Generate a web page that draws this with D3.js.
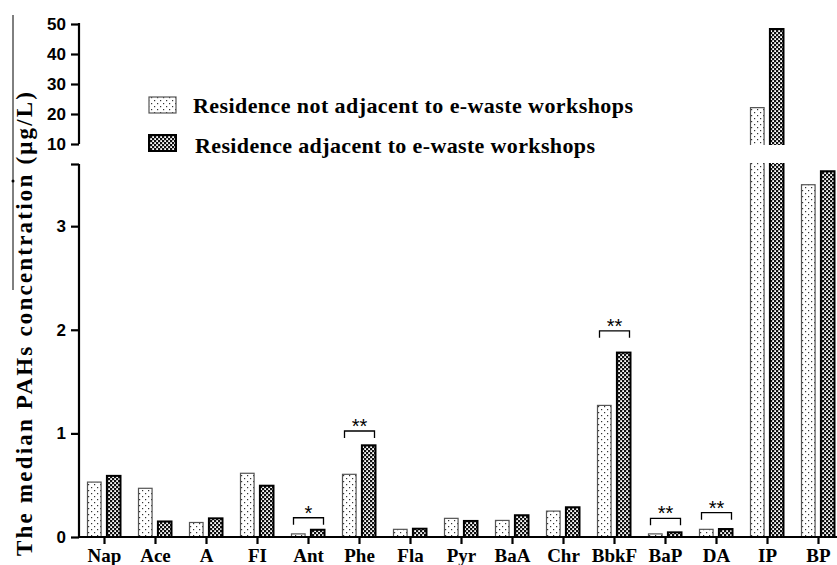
<!DOCTYPE html>
<html>
<head>
<meta charset="utf-8">
<script src="https://cdn.jsdelivr.net/npm/d3@7"></script>
<style>
  body { margin: 0; background: #fff; }
  svg { display: block; }
</style>
</head>
<body>
<div id="chart"></div>
<script>
'use strict'

// data
const categories = ['Nap', 'Ace', 'A', 'FI', 'Ant', 'Phe', 'Fla', 'Pyr', 'BaA', 'Chr', 'BbkF', 'BaP', 'DA', 'IP', 'BP']
const notAdjacent = [0.53, 0.47, 0.14, 0.615, 0.03, 0.605, 0.074, 0.18, 0.16, 0.25, 1.27, 0.03, 0.074, 22.1, 3.40]
const adjacent = [0.59, 0.15, 0.18, 0.495, 0.07, 0.885, 0.08, 0.155, 0.21, 0.287, 1.78, 0.045, 0.077, 48.3, 3.53]
const seriesNames = ['Residence not adjacent to e-waste workshops', 'Residence adjacent to e-waste workshops']

const lowTicks = [0, 1, 2, 3]
const highTicks = [10, 20, 30, 40, 50]

// significance brackets: category, label, level (µg/L)
const sigCats = ['Ant', 'Phe', 'BbkF', 'BaP', 'DA']
const sigLabels = ['*', '**', '**', '**', '**']
const sigLevels = [0.186, 1.023, 1.99, 0.18, 0.235]

////////////////////////////////////
//////////// svg setup /////////////
////////////////////////////////////
const svgWidth = 837, svgHeight = 565
const axisX = 79, baseY = 537

const svg = d3.select('#chart')
    .append('svg')
    .attr('width', svgWidth)
    .attr('height', svgHeight)

// broken y axis: lower segment 0..3.6, upper segment 10..50
const yLow = d3.scaleLinear().domain([0, 3.6]).range([baseY, 164])
const yHigh = d3.scaleLinear().domain([10, 50]).range([144, 24])

const x = d3.scaleBand().domain(categories).range([axisX, axisX + 51 * categories.length]).padding(0)
const xSub = d3.scaleBand().domain([0, 1]).range([8.5, 41.5]).paddingInner(0.3)

// patterns
const defs = svg.append('defs')
const dots = defs.append('pattern')
    .attr('id', 'dots')
    .attr('patternUnits', 'userSpaceOnUse')
    .attr('width', 6).attr('height', 6)
dots.append('rect').attr('width', 6).attr('height', 6).attr('fill', '#fff')
dots.append('rect').attr('x', 1).attr('y', 1).attr('width', 1.2).attr('height', 1.2).attr('fill', '#333')
dots.append('rect').attr('x', 4).attr('y', 4).attr('width', 1.2).attr('height', 1.2).attr('fill', '#333')

const checks = defs.append('pattern')
    .attr('id', 'checks')
    .attr('patternUnits', 'userSpaceOnUse')
    .attr('width', 4).attr('height', 4)
checks.append('rect').attr('width', 4).attr('height', 4).attr('fill', '#111')
checks.append('rect').attr('x', 0.2).attr('y', 0.2).attr('width', 1.8).attr('height', 1.8).attr('fill', '#fff')
checks.append('rect').attr('x', 2.2).attr('y', 2.2).attr('width', 1.8).attr('height', 1.8).attr('fill', '#fff')

const fills = ['url(#dots)', 'url(#checks)']
const strokes = ['#555', '#000']
const strokeW = [1.2, 2]

////////////////////////////////////
////////////// bars ////////////////
////////////////////////////////////
const barData = []
categories.forEach((c, i) => {
    [notAdjacent[i], adjacent[i]].forEach((v, s) => barData.push({ cat: c, s: s, v: v }))
})

const bars = svg.append('g')
barData.forEach(d => {
    const bx = x(d.cat) + xSub(d.s)
    const bw = xSub.bandwidth()
    const g = bars.append('g')
        .attr('fill', fills[d.s])
        .attr('stroke', strokes[d.s])
        .attr('stroke-width', strokeW[d.s])
    if (d.v <= 3.6) {
        g.append('rect')
            .attr('x', bx).attr('y', yLow(d.v))
            .attr('width', bw).attr('height', baseY - yLow(d.v))
    } else {
        // lower piece, open at the break
        g.append('rect')
            .attr('x', bx).attr('y', yLow(3.6) - 1)
            .attr('width', bw).attr('height', baseY - yLow(3.6) + 1)
            .attr('stroke', 'none')
        g.append('path')
            .attr('fill', 'none')
            .attr('d', `M${bx},${yLow(3.6) - 1}V${baseY}M${bx + bw},${yLow(3.6) - 1}V${baseY}`)
        // upper piece
        g.append('rect')
            .attr('x', bx).attr('y', yHigh(d.v))
            .attr('width', bw).attr('height', yHigh(10) + 1 - yHigh(d.v))
            .attr('stroke', 'none')
        g.append('path')
            .attr('fill', 'none')
            .attr('d', `M${bx},${yHigh(10) + 1}V${yHigh(d.v)}H${bx + bw}V${yHigh(10) + 1}`)
    }
})

////////////////////////////////////
////////////// axes ////////////////
////////////////////////////////////
const tickFont = 'bold 17px "Liberation Sans", Arial, sans-serif'

const yAxisLow = svg.append('g')
    .attr('transform', `translate(${axisX},0)`)
    .call(d3.axisLeft(yLow).tickValues(lowTicks.concat([3.6])).tickSize(8).tickPadding(5)
        .tickFormat(d => lowTicks.includes(d) ? d : ''))
const yAxisHigh = svg.append('g')
    .attr('transform', `translate(${axisX},0)`)
    .call(d3.axisLeft(yHigh).tickValues(highTicks).tickSize(8).tickPadding(5))

;[yAxisLow, yAxisHigh].forEach(a => {
    a.select('.domain').attr('stroke-width', 2.2).attr('d', null)
    a.selectAll('.tick line').attr('stroke-width', 2.2)
    a.selectAll('.tick text').style('font', tickFont).attr('fill', '#000')
})
yAxisLow.select('.domain').attr('d', `M0,${baseY}V${yLow(3.6)}`)
yAxisHigh.select('.domain').attr('d', `M0,${yHigh(10)}V${yHigh(50) - 1}`)

const xAxis = svg.append('g')
    .attr('transform', `translate(0,${baseY})`)
    .call(d3.axisBottom(x).tickSize(7).tickPadding(5))
xAxis.select('.domain').attr('d', `M${axisX - 1},0H${svgWidth}`).attr('stroke-width', 2.2)
xAxis.selectAll('.tick line').attr('stroke-width', 2.2)
xAxis.selectAll('.tick text')
    .style('font', 'bold 19px "Liberation Serif", "Times New Roman", serif')
    .attr('fill', '#000')
    .attr('dy', null)
    .attr('y', 25)

// y title
svg.append('text')
    .attr('transform', 'translate(32,556) rotate(-90)')
    .attr('textLength', 464)
    .attr('lengthAdjust', 'spacing')
    .style('font', 'bold 23px "Liberation Serif", "Times New Roman", serif')
    .text('The median PAHs concentration (\u03bcg/L)')
// stray overline from the original figure
svg.append('line')
    .attr('x1', 13).attr('x2', 13).attr('y1', 15).attr('y2', 290)
    .attr('stroke', '#000').attr('stroke-width', 1)
svg.append('circle').attr('cx', 13).attr('cy', 181).attr('r', 1.5)

////////////////////////////////////
/////////// significance ///////////
////////////////////////////////////
const sig = svg.append('g')
sigCats.forEach((c, i) => {
    const cx = x(c) + x.bandwidth() / 2
    const yy = yLow(sigLevels[i])
    sig.append('path')
        .attr('d', `M${cx - 15},${yy + 7}V${yy}H${cx + 15}V${yy + 7}`)
        .attr('fill', 'none').attr('stroke', '#000').attr('stroke-width', 1.3)
    sig.append('text')
        .attr('x', cx).attr('y', yy + 2)
        .attr('text-anchor', 'middle')
        .style('font', '20px "Liberation Sans", Arial, sans-serif')
        .text(sigLabels[i])
})

////////////////////////////////////
////////////// legend //////////////
////////////////////////////////////
const legend = svg.append('g')
const legendW = [440, 400]
seriesNames.forEach((n, i) => {
    const ly = 97 + i * 38
    legend.append('rect')
        .attr('x', 149).attr('y', ly)
        .attr('width', 27).attr('height', 16)
        .attr('fill', fills[i]).attr('stroke', strokes[i]).attr('stroke-width', strokeW[i])
    legend.append('text')
        .attr('x', 193 + i * 2).attr('y', 113 + i * 40)
        .attr('textLength', legendW[i])
        .attr('lengthAdjust', 'spacing')
        .style('font', 'bold 22px "Liberation Serif", "Times New Roman", serif')
        .text(n)
})
</script>
</body>
</html>
